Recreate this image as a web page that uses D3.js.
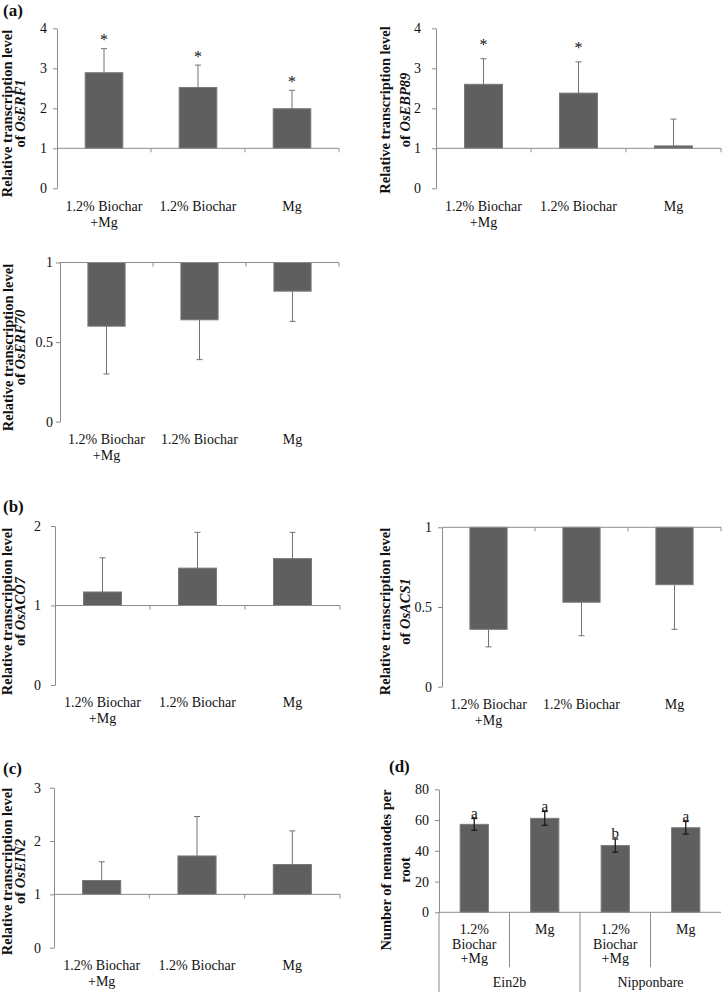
<!DOCTYPE html>
<html><head><meta charset="utf-8">
<script src="https://cdn.jsdelivr.net/npm/d3@7"></script>
<style>
body{margin:0;background:#fff}
svg{display:block}
text{font-family:"Liberation Serif","Times New Roman",serif;fill:#111}
</style>
</head><body>
<svg id="c" width="722" height="992"></svg>
<script>
// ---------------- DATA ----------------
const categories = [["1.2% Biochar","+Mg"],["1.2% Biochar"],["Mg"]];

const erf1Values  = [2.89, 2.52, 1.99];
const erf1Errors  = [0.60, 0.56, 0.46];
const erf1Marks   = ["*","*","*"];

const ebp89Values = [2.60, 2.38, 1.06];
const ebp89Errors = [0.64, 0.78, 0.67];
const ebp89Marks  = ["*","*",""];

const erf70Values = [0.60, 0.64, 0.82];
const erf70Errors = [0.30, 0.25, 0.19];

const aco7Values  = [1.17, 1.47, 1.59];
const aco7Errors  = [0.43, 0.45, 0.33];

const acs1Values  = [0.36, 0.53, 0.64];
const acs1Errors  = [0.11, 0.21, 0.28];

const ein2Values  = [1.26, 1.72, 1.56];
const ein2Errors  = [0.35, 0.74, 0.63];

const nemCategories = [["1.2%","Biochar","+Mg"],["Mg"],["1.2%","Biochar","+Mg"],["Mg"]];
const nemGroups     = ["Ein2b","Nipponbare"];
const nemValues     = [57.2, 61.1, 43.4, 55.0];
const nemErrors     = [3.8, 4.5, 4.3, 4.1];
const nemLetters    = ["a","a","b","a"];

const ticks4   = [0,1,2,3,4];
const ticks3   = [0,1,2,3];
const ticks2   = [0,1,2];
const ticksHalf= [0,0.5,1];
const ticks80  = [0,20,40,60,80];

// ---------------- STYLE ----------------
const BAR = "#5f5f5f", BARSTROKE = "#7a7a7a", AXIS = "#8c8c8c", ERR = "#727272", ERRD = "#1a1a1a";
const svg = d3.select("#c");

function yLabel(l1x, l2x, cy, line1, pre, gene){
  svg.append("text").attr("transform",`translate(${l1x},${cy}) rotate(-90)`)
    .attr("text-anchor","middle").attr("font-size",14.5).attr("font-weight","bold").text(line1);
  const t = svg.append("text").attr("transform",`translate(${l2x},${cy}) rotate(-90)`)
    .attr("text-anchor","middle").attr("font-size",14.5).attr("font-weight","bold");
  t.append("tspan").text(pre);
  if (gene) t.append("tspan").attr("font-style","italic").text(gene);
}

function panelLetter(x, y, s){
  svg.append("text").attr("x",x).attr("y",y).attr("font-size",17).attr("font-weight","bold").text(s);
}

function drawPanel(p){
  const g = svg.append("g");
  const n = p.values.length;
  const x = d3.scaleBand().domain(d3.range(n)).range([p.x0,p.x1]).paddingInner(0.6).paddingOuter(0.3);
  const y = d3.scaleLinear().domain(p.domain).range([p.yBot,p.yTop]);
  const yb = y(p.base);

  // bars
  g.selectAll("rect.bar").data(p.values).join("rect").attr("class","bar")
    .attr("x",(d,i)=>x(i)).attr("width",x.bandwidth())
    .attr("y",d=>Math.min(y(d),yb)).attr("height",d=>Math.abs(y(d)-yb))
    .attr("fill",BAR).attr("stroke",BARSTROKE).attr("stroke-width",1);

  // error bars
  p.values.forEach((v,i)=>{
    const cx = x(i)+x.bandwidth()/2;
    const e = p.errors[i];
    let a, b;
    if (p.both){ a = v - e; b = v + e; }
    else { const s = v >= p.base ? 1 : -1; a = v; b = v + s*e; }
    const col = p.both ? ERRD : ERR;
    const sw = p.both ? 1.3 : 1;
    g.append("line").attr("x1",cx).attr("x2",cx).attr("y1",y(a)).attr("y2",y(b)).attr("stroke",col).attr("stroke-width",sw);
    g.append("line").attr("x1",cx-3).attr("x2",cx+3).attr("y1",y(b)).attr("y2",y(b)).attr("stroke",col).attr("stroke-width",sw);
    if (p.both) g.append("line").attr("x1",cx-3).attr("x2",cx+3).attr("y1",y(a)).attr("y2",y(a)).attr("stroke",col).attr("stroke-width",sw);
    if (p.marks && p.marks[i]){
      g.append("text").attr("x",cx).attr("y",y(b) - p.markOff)
        .attr("text-anchor","middle").attr("font-size",p.markSize||16).style("fill","#111").text(p.marks[i]);
    }
  });

  // y axis
  const ya = d3.axisLeft(y).tickValues(p.ticks).tickSize(4).tickSizeOuter(0).tickPadding(p.pad).tickFormat(d=>String(d));
  const ag = g.append("g").attr("transform",`translate(${p.x0},0)`).call(ya);
  ag.select(".domain").attr("stroke",AXIS);
  ag.selectAll(".tick line").attr("stroke",AXIS);
  ag.selectAll(".tick text").attr("font-size",14).attr("fill","#111")
    .attr("font-family",'"Liberation Serif","Times New Roman",serif');

  // category axis line at baseline
  g.append("line").attr("x1",p.x0).attr("x2",p.x1).attr("y1",yb).attr("y2",yb).attr("stroke",AXIS);
  const step = x.step();

  if (!p.groups){
    for (let i=1;i<=n;i++){
      const tx = p.x0 + i*step;
      g.append("line").attr("x1",tx).attr("x2",tx).attr("y1",yb).attr("y2",yb+4).attr("stroke",AXIS);
    }
    p.cats.forEach((lines,i)=>{
      const t = g.append("text").attr("text-anchor","middle").attr("font-size",14);
      lines.forEach((s,k)=>t.append("tspan").attr("x",x(i)+x.bandwidth()/2).attr("y",p.yBot+22.4+k*16).text(s));
    });
  } else {
    // multi-level category axis
    for (let i=1;i<n;i++){
      const tx = p.x0 + i*step;
      const long = (i % 2 === 0);
      g.append("line").attr("x1",tx).attr("x2",tx).attr("y1",yb).attr("y2", long ? 993 : yb+55).attr("stroke",AXIS);
    }
    g.append("line").attr("x1",p.x0).attr("x2",p.x0).attr("y1",yb).attr("y2",993).attr("stroke",AXIS);
    p.cats.forEach((lines,i)=>{
      const t = g.append("text").attr("text-anchor","middle").attr("font-size",14);
      lines.forEach((s,k)=>t.append("tspan").attr("x",x(i)+x.bandwidth()/2).attr("y",p.yBot+21.7+k*14.5).text(s));
    });
    p.groups.forEach((s,gi)=>{
      g.append("text").attr("text-anchor","middle").attr("font-size",14)
        .attr("x",p.x0 + (gi*2+1)*step).attr("y",987).text(s);
    });
  }
}

// ---------------- PANELS ----------------
panelLetter(3,16,"(a)");
drawPanel({values:erf1Values, errors:erf1Errors, marks:erf1Marks, markOff:3.5, cats:categories,
  domain:[0,4], ticks:ticks4, base:1, x0:57, x1:339, yTop:28.3, yBot:188.3, pad:6});
yLabel(12, 24.5, 113.5, "Relative transcription level", "of ", "OsERF1");

drawPanel({values:ebp89Values, errors:ebp89Errors, marks:ebp89Marks, markOff:8.7, cats:categories,
  domain:[0,4], ticks:ticks4, base:1, x0:436, x1:721, yTop:28.3, yBot:188.3, pad:11});
yLabel(390, 410, 110, "Relative transcription level", "of ", "OsEBP89");

drawPanel({values:erf70Values, errors:erf70Errors, cats:categories,
  domain:[0,1], ticks:ticksHalf, base:1, x0:60, x1:339, yTop:262.5, yBot:421.7, pad:3});
yLabel(12.5, 25, 347.5, "Relative transcription level", "of ", "OsERF70");

panelLetter(3,512,"(b)");
drawPanel({values:aco7Values, errors:aco7Errors, cats:categories,
  domain:[0,2], ticks:ticks2, base:1, x0:55, x1:340, yTop:526, yBot:685, pad:10});
yLabel(12, 25, 611.5, "Relative transcription level", "of ", "OsACO7");

drawPanel({values:acs1Values, errors:acs1Errors, cats:categories,
  domain:[0,1], ticks:ticksHalf, base:1, x0:442, x1:721, yTop:527.3, yBot:686.7, pad:6});
yLabel(390, 410, 611.5, "Relative transcription level", "of ", "OsACS1");

panelLetter(3,774,"(c)");
drawPanel({values:ein2Values, errors:ein2Errors, cats:categories,
  domain:[0,3], ticks:ticks3, base:1, x0:54, x1:340, yTop:787.7, yBot:947.7, pad:9});
yLabel(12, 25, 871.5, "Relative transcription level", "of ", "OsEIN2");

panelLetter(389,772,"(d)");
drawPanel({values:nemValues, errors:nemErrors, marks:nemLetters, markOff:0.6, markSize:15, both:true,
  cats:nemCategories, groups:nemGroups,
  domain:[0,80], ticks:ticks80, base:0, x0:439, x1:721, yTop:789.3, yBot:912.3, pad:6});
yLabel(391, 410, 870, "Number of nematodes per", "root", null);
</script>
</body></html>
